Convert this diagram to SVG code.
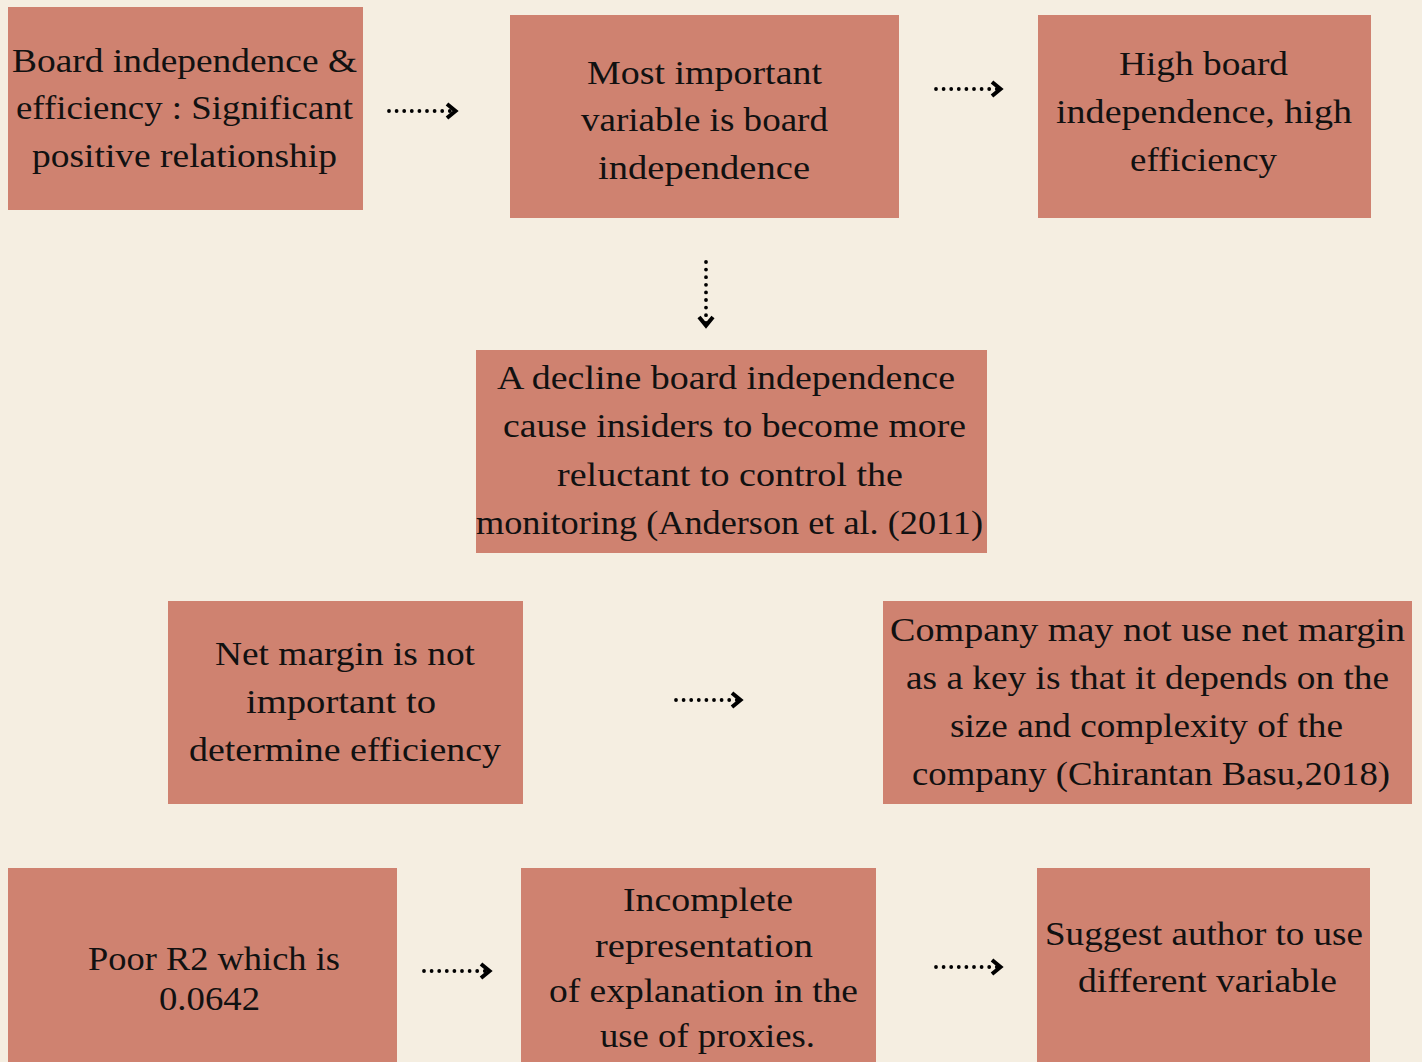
<svg xmlns="http://www.w3.org/2000/svg" width="1422" height="1062" viewBox="0 0 1422 1062">
  <style>
    .bg { fill: #F5EEE1; }
    .box { fill: #CF8270; }
    .label { font-family: "Liberation Serif", "Times New Roman", serif; font-size: 33px; fill: #111111; }
    .dots { fill: none; stroke: #000000; stroke-width: 3.8; stroke-linecap: round; stroke-dasharray: 0 7.6; }
  </style>
  <defs>
    <marker id="chev" markerUnits="userSpaceOnUse" markerWidth="24" markerHeight="24" viewBox="-14 -12 18 24" refX="0" refY="0" orient="auto" overflow="visible">
      <path d="M-10,-7 L-1.5,0 L-10,7" fill="none" stroke="#000000" stroke-width="4" stroke-linejoin="miter"/>
    </marker>
  </defs>

  <rect class="bg" x="0" y="0" width="1422" height="1062"/>

  <g id="connectors">
    <path class="dots" d="M389,111 H457" marker-end="url(#chev)"/>
    <path class="dots" d="M706,262 V327" marker-end="url(#chev)"/>
    <path class="dots" d="M936,89 H1002" marker-end="url(#chev)"/>
    <path class="dots" d="M676,700 H742" marker-end="url(#chev)"/>
    <path class="dots" d="M424,971 H491" marker-end="url(#chev)"/>
    <path class="dots" d="M936,967 H1002" marker-end="url(#chev)"/>
  </g>

  <g id="board-efficiency">
    <rect class="box" x="8" y="7" width="355" height="203"/>
    <text class="label" x="12" y="72" textLength="345" lengthAdjust="spacingAndGlyphs">Board independence &amp;</text>
    <text class="label" x="16" y="119" textLength="337" lengthAdjust="spacingAndGlyphs">efficiency : Significant</text>
    <text class="label" x="32" y="167" textLength="305" lengthAdjust="spacingAndGlyphs">positive relationship</text>
  </g>

  <g id="important-variable">
    <rect class="box" x="510" y="15" width="389" height="203"/>
    <text class="label" x="587" y="84" textLength="235" lengthAdjust="spacingAndGlyphs">Most important</text>
    <text class="label" x="581" y="131" textLength="247" lengthAdjust="spacingAndGlyphs">variable is board</text>
    <text class="label" x="598" y="179" textLength="212" lengthAdjust="spacingAndGlyphs">independence</text>
  </g>

  <g id="high-independence">
    <rect class="box" x="1038" y="15" width="333" height="203"/>
    <text class="label" x="1119" y="75" textLength="169" lengthAdjust="spacingAndGlyphs">High board</text>
    <text class="label" x="1056" y="123" textLength="296" lengthAdjust="spacingAndGlyphs">independence, high</text>
    <text class="label" x="1130" y="171" textLength="147" lengthAdjust="spacingAndGlyphs">efficiency</text>
  </g>

  <g id="decline-independence">
    <rect class="box" x="476" y="350" width="511" height="203"/>
    <text class="label" x="497" y="389" textLength="458" lengthAdjust="spacingAndGlyphs">A decline board independence</text>
    <text class="label" x="503" y="437" textLength="463" lengthAdjust="spacingAndGlyphs">cause insiders to become more</text>
    <text class="label" x="557" y="486" textLength="346" lengthAdjust="spacingAndGlyphs">reluctant to control the</text>
    <text class="label" x="476" y="534" textLength="507" lengthAdjust="spacingAndGlyphs">monitoring (Anderson et al. (2011)</text>
  </g>

  <g id="net-margin">
    <rect class="box" x="168" y="601" width="355" height="203"/>
    <text class="label" x="215" y="665" textLength="260" lengthAdjust="spacingAndGlyphs">Net margin is not</text>
    <text class="label" x="246" y="713" textLength="190" lengthAdjust="spacingAndGlyphs">important to</text>
    <text class="label" x="189" y="761" textLength="312" lengthAdjust="spacingAndGlyphs">determine efficiency</text>
  </g>

  <g id="company-net-margin">
    <rect class="box" x="883" y="601" width="529" height="203"/>
    <text class="label" x="890" y="641" textLength="515" lengthAdjust="spacingAndGlyphs">Company may not use net margin</text>
    <text class="label" x="906" y="689" textLength="483" lengthAdjust="spacingAndGlyphs">as a key is that it depends on the</text>
    <text class="label" x="950" y="737" textLength="393" lengthAdjust="spacingAndGlyphs">size and complexity of the</text>
    <text class="label" x="912" y="785" textLength="478" lengthAdjust="spacingAndGlyphs">company (Chirantan Basu,2018)</text>
  </g>

  <g id="poor-r2">
    <rect class="box" x="8" y="868" width="389" height="194"/>
    <text class="label" x="88" y="970" textLength="252" lengthAdjust="spacingAndGlyphs">Poor R2 which is</text>
    <text class="label" x="159" y="1010" textLength="101" lengthAdjust="spacingAndGlyphs">0.0642</text>
  </g>

  <g id="incomplete-representation">
    <rect class="box" x="521" y="868" width="355" height="194"/>
    <text class="label" x="623" y="911" textLength="170" lengthAdjust="spacingAndGlyphs">Incomplete</text>
    <text class="label" x="595" y="957" textLength="218" lengthAdjust="spacingAndGlyphs">representation</text>
    <text class="label" x="549" y="1002" textLength="309" lengthAdjust="spacingAndGlyphs">of explanation in the</text>
    <text class="label" x="600" y="1047" textLength="215" lengthAdjust="spacingAndGlyphs">use of proxies.</text>
  </g>

  <g id="suggest-variable">
    <rect class="box" x="1037" y="868" width="333" height="194"/>
    <text class="label" x="1045" y="945" textLength="318" lengthAdjust="spacingAndGlyphs">Suggest author to use</text>
    <text class="label" x="1078" y="992" textLength="259" lengthAdjust="spacingAndGlyphs">different variable</text>
  </g>
</svg>
